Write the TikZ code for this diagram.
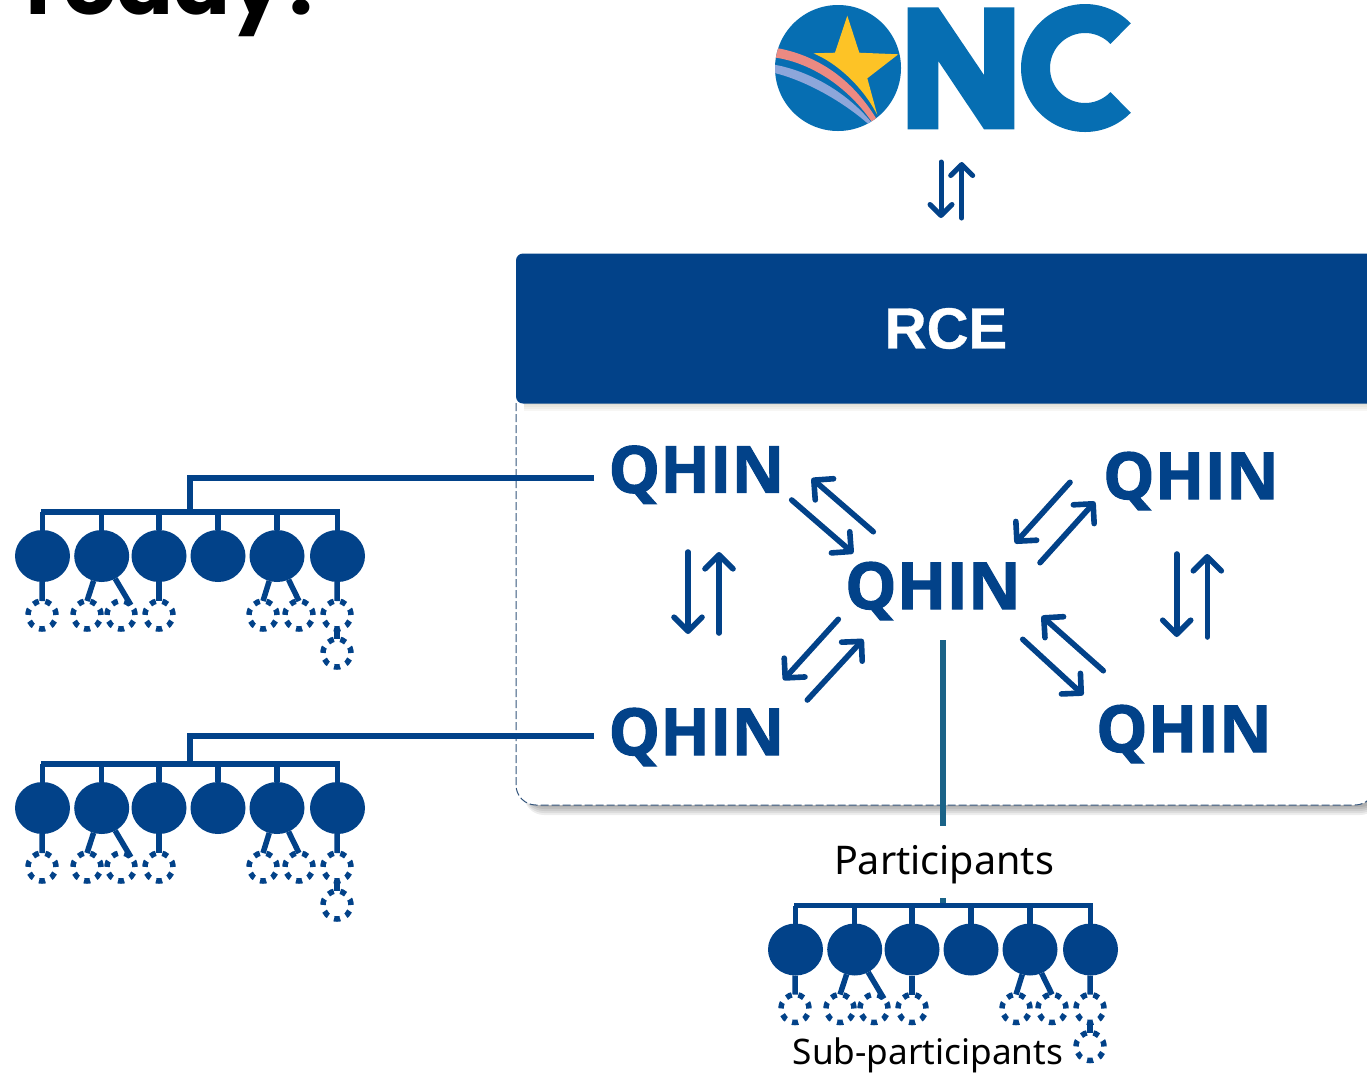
\documentclass[tikz,border=0pt]{standalone}
\usepackage{fontspec}
\usetikzlibrary{arrows.meta,shapes.geometric,calc}
\setmainfont{Noto Sans}
\newfontfamily\qhinfont{Open Sans}[BoldFeatures={FakeBold=1.6}]
\newfontfamily\rcefont{Liberation Sans}[BoldFeatures={FakeBold=0.6}]
\newfontfamily\todayfont{Poppins}
\definecolor{navy}{HTML}{024289}
\definecolor{onc}{HTML}{066EB2}
\definecolor{star}{HTML}{FDC326}
\definecolor{pinkb}{HTML}{EC8A82}
\definecolor{lav}{HTML}{8DA6DA}
\definecolor{teal2}{HTML}{1A6388}
\definecolor{edge}{HTML}{34557C}
\tikzset{
  qhin/.style={anchor=base west,inner sep=0pt,outer sep=0pt,text=navy,font=\qhinfont\bfseries\fontsize{65}{70}\selectfont},
  dbltop/.style={draw=navy,line width=5pt,line cap=round,line join=round,-{Straight Barb[length=11pt,width=22pt,round]}},
  dbl/.style={draw=navy,line width=5.6pt,line cap=round,line join=round,-{Straight Barb[length=14pt,width=28pt,round]}},
  wire/.style={draw=navy,line width=5.5pt},
  link/.style={draw=navy,line width=5.5pt},
  member/.style={ellipse,fill=navy,minimum width=55pt,minimum height=52pt,inner sep=0pt,outer sep=0pt},
  sub/.style={circle,draw=navy,line width=5.5pt,dash pattern=on 6pt off 6.57pt,minimum size=28pt,inner sep=0pt,outer sep=0pt},
  label/.style={inner sep=0pt,outer sep=0pt,text=black},
}
\newcommand\cluster[3]{%
\begin{scope}[shift={(#2,#3)}]
  \coordinate (#1bar) at (190,512);
  \node[member] (#1a) at (42.5,556) {};
  \node[member] (#1b) at (101.7,556) {};
  \node[member] (#1c) at (159,556) {};
  \node[member] (#1d) at (218,556) {};
  \node[member] (#1e) at (277,556) {};
  \node[member] (#1f) at (337.5,556) {};
  \node[sub] (#1s1) at (42,615) {};
  \node[sub] (#1s2) at (87,615) {};
  \node[sub] (#1s3) at (121,615) {};
  \node[sub] (#1s4) at (159,615) {};
  \node[sub] (#1s5) at (263,615) {};
  \node[sub] (#1s6) at (299,615) {};
  \node[sub] (#1s7) at (337,615) {};
  \node[sub] (#1s8) at (337,653) {};
  \draw[link] (#1a |- #1bar) ++(-1.5,0) -- ++(298.5,0);
  \foreach \m in {a,b,c,d,e,f} {\draw[link] (#1\m |- #1bar) -- (#1\m);}
  \draw[link] (#1a) -- (#1s1.north);
  \draw[link] (#1b) -- (#1s2.north);
  \draw[link] (#1b) -- (#1s3.north east);
  \draw[link] (#1c) -- (#1s4.north);
  \draw[link] (#1e) -- (#1s5.north);
  \draw[link] (#1e) -- (#1s6.north);
  \draw[link] (#1f) -- (#1s7.north);
  \draw[link] (#1s7.south) -- (#1s8.north);
\end{scope}}
\begin{document}
\begin{tikzpicture}[x=1pt,y=-1pt]
\useasboundingbox (0,0) rectangle (1367,1072);
\fill[white] (0,0) rectangle (1367,1072);
% heading, cut by the top edge
\node[anchor=base west,inner sep=0pt,font=\todayfont\bfseries\fontsize{84}{90}\selectfont] (today) at (13.5,14.5) {Today?};
% logo
\coordinate (onc) at (951,132);
\fill[onc] (838,68) circle (63);
\begin{scope}
  \clip (838,68) circle (63);
  \fill[pinkb] (770,47) .. controls (808,52) and (848,72) .. (876.7,119.3) -- (871.7,121.7) .. controls (845,83) and (805,60) .. (770,57) -- cycle;
  \fill[lav] (770,64) .. controls (805,69) and (845,90) .. (871.7,122.7) -- (868.3,124) .. controls (840,99) and (800,78) .. (770,72) -- cycle;
\end{scope}
\fill[star] (847.3,15.7) -- (859.3,52.7) -- (898.3,54.3) -- (867.3,78.3) -- (877.3,115) .. controls (862,85) and (835,62) .. (813.3,53.3) -- (835,52.7) -- cycle;
\fill[onc] (907.7,7.3) -- (938.3,7.3) -- (984,75) -- (984,7.3) -- (1014.3,7.3) -- (1014.3,129.3) -- (984,129.3) -- (938.3,61) -- (938.3,129.3) -- (907.7,129.3) -- cycle;
\draw[onc,line width=29pt] plot[domain=44:316,samples=90] ({1085+49.5*cos(\x)},{68+49.5*sin(\x)});
% RCE frame
\foreach \s in {2,4,6,8,10} {\fill[black,opacity=.07,rounded corners=20pt] (524,420) rectangle (1380,805+\s);}
\fill[white,rounded corners=20pt] (516,395) rectangle (1375,805);
\draw[edge,line width=1pt,dash pattern=on 8pt off 3pt,rounded corners=20pt] (516,403) -- (516,805) -- (1375,805) -- (1375,403);
\foreach \s in {2,4,6,8} {\fill[black!60!yellow,opacity=.06] (524,395) rectangle (1380,403+\s);}
\node[fill=navy,rounded corners=7pt,inner sep=0pt,outer sep=0pt,minimum width=860pt,minimum height=150pt,anchor=north west] (rcebox) at (516,253.5) {};
\node[text=white,inner sep=0pt,font=\rcefont\bfseries\fontsize{58}{60}\selectfont] (rce) at (946,328.5) {RCE};
% QHINs
\node[qhin] (q1) at (608.5,492.7) {QHIN};
\node[qhin] (qc) at (845,609) {QHIN};
\node[qhin] (q3) at (608.5,755) {QHIN};
\node[qhin] (q4) at (1103,499) {QHIN};
\node[qhin] (q5) at (1096,752) {QHIN};
% arrows
\draw[dbltop] (onc) ++(-10,30) -- ++(0,56);
\draw[dbltop] (onc) ++(10.7,86) -- ++(0,-56);
\draw[dbl] (q1.base west) ++(183.2,7.3) -- ([shift={(8.3,-55.7)}]qc.base west);
\draw[dbl] ([shift={(28.3,-77.3)}]qc.base west) -- ([shift={(203.2,-14.4)}]q1.base west);
\draw[dbl] ([shift={(-6.7,10.3)}]qc.base west) -- ([shift={(174.8,-75)}]q3.base west);
\draw[dbl] ([shift={(198.8,-55)}]q3.base west) -- ([shift={(18.3,30.3)}]qc.base west);
\draw[dbl] ([shift={(-33,-16.7)}]q4.base west) -- ([shift={(-88,44.3)}]q4.base west);
\draw[dbl] ([shift={(195,-46.3)}]qc.base west) -- ([shift={(-8,2.7)}]q4.base west);
\draw[dbl] ([shift={(7.3,-81.3)}]q5.base west) -- ([shift={(196.7,7)}]qc.base west);
\draw[dbl] ([shift={(177.7,30.3)}]qc.base west) -- ([shift={(-12.7,-57)}]q5.base west);
\draw[dbl] (q1.base west) ++(79.5,59.3) -- ++(0,82);
\draw[dbl] (q3.base west) ++(110.5,-122) -- ++(0,-81);
\draw[dbl] (q4.base west) ++(73.7,55) -- ++(0,83);
\draw[dbl] (q5.base west) ++(111.3,-115) -- ++(0,-83);
% clusters
\cluster{x}{0}{0}
\cluster{y}{0}{252}
\cluster{z}{753}{393.5}
% connectors
\draw[wire] ([shift={(-14.5,-14.7)}]q1.base west) -| (xbar);
\draw[wire] ([shift={(-14.5,-19)}]q3.base west) -| (ybar);
\node[label,minimum height=66pt,anchor=center,font=\fontsize{39.5}{44}\selectfont] (part) at (944,865) {Participants};
\node[label,anchor=center,font=\fontsize{35.2}{40}\selectfont] (subp) at (928,1055) {Sub-participants};
\draw[teal2,line width=6pt] ([shift={(98,31)}]qc.base west) -- ([yshift=6pt]part.north -| zbar);
\draw[teal2,line width=6pt] (part.south -| zbar) -- ([yshift=2.5pt]zbar);
\end{tikzpicture}
\end{document}
